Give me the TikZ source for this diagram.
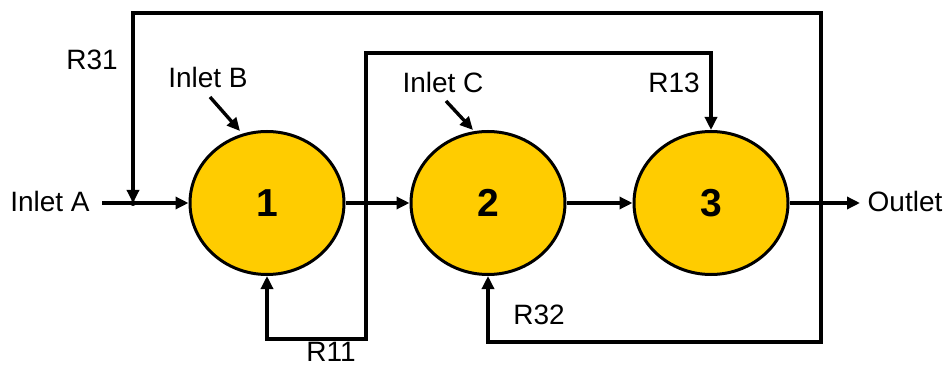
\documentclass[tikz,border=0pt]{standalone}
\usepackage{fontspec}
\setmainfont{Liberation Sans}
\usetikzlibrary{arrows.meta,shapes.geometric}
\definecolor{tank}{HTML}{FFCC00}
\tikzset{
  tankn/.style={ellipse, draw=black, fill=tank, line width=3pt, minimum width=154pt, minimum height=143pt, inner sep=0pt, font=\fontsize{39}{40}\selectfont\bfseries},
  lbl/.style={font=\fontsize{28}{30}\selectfont, inner sep=0pt},
  flow/.style={line width=3.4pt, -{Triangle[length=13pt,width=12pt]}},
}
\begin{document}
\begin{tikzpicture}[x=1pt,y=-1pt]
\useasboundingbox (0,0) rectangle (945,366);
\node[tankn] (c1) at (267,203) {1};
\node[tankn] (c2) at (488,203) {2};
\node[tankn] (c3) at (711,203) {3};
\node[lbl] (tA) at (50,201) {Inlet A};
\node[lbl] (tB) at (208,77) {Inlet B};
\node[lbl] (tC) at (443,82) {Inlet C};
\node[lbl] (tR31) at (92,60) {R31};
\node[lbl] (tR13) at (674,83) {R13};
\node[lbl] (tR32) at (539,315) {R32};
\node[lbl] (tR11) at (331,352) {R11};
\node[lbl] (tOut) at (905,201) {Outlet};
\coordinate (a0) at (102,203);
\coordinate (m31) at (133,203);
\coordinate (j12) at (366,203);
\coordinate (j3) at (821,203);
\coordinate (o1) at (860,203);
\coordinate (b0) at (210,97);
\coordinate (b1) at (240,131);
\coordinate (cc0) at (446,101);
\coordinate (cc1) at (473,130);
% main flow
\draw[flow] (a0) -- (c1.west);
\draw[flow] (c1.east) -- (c2.west);
\draw[flow] (c2.east) -- (c3.west);
\draw[flow] (c3.east) -- (o1);
% inlets
\draw[flow] (b0) -- (b1);
\draw[flow] (cc0) -- (cc1);
% R13 and R11
\draw[flow] (j12) -- (366,53) -| (c3.north);
\draw[flow] (j12) -- (366,339) -| (c1.south);
% R31 and R32
\draw[flow] (j3) -- (821,13) -| (m31);
\draw[flow] (j3) -- (821,342) -| (c2.south);
\fill (m31) circle (3pt);
\end{tikzpicture}
\end{document}
